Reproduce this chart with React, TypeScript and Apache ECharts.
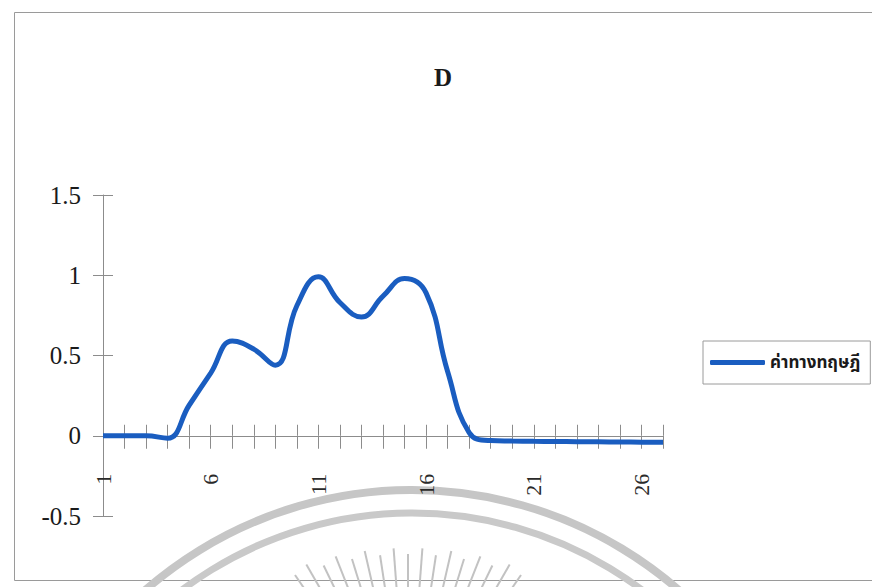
import React, { useEffect, useRef } from "react";
import * as echarts from "echarts";

// Point index along the horizontal axis
const categories = [
  "1", "2", "3", "4", "5", "6", "7", "8", "9", "10", "11", "12", "13", "14",
  "15", "16", "17", "18", "19", "20", "21", "22", "23", "24", "25", "26", "27",
];

// Theoretical values (ค่าทางทฤษฎี)
const theoryValues = [
  0, 0, 0, -0.015, 0.19, 0.39, 0.59, 0.54, 0.44, 0.81, 0.99, 0.83, 0.74, 0.87,
  0.98, 0.89, 0.4, 0.02, -0.03, -0.033, -0.035, -0.036, -0.037, -0.038, -0.039,
  -0.04, -0.041,
];

const seriesName = "ค่าทางทฤษฎี";
const chartTitle = "D";

const yMin = -0.5;
const yMax = 1.5;
const yStep = 0.5;

const SERIF = "'Liberation Serif', 'Times New Roman', serif";
const LINE_BLUE = "#1a5dc0";
const AXIS_GRAY = "#8c8c8c";

const GRID = { left: 103, right: 209, top: 195, bottom: 71 };
const PLOT_HEIGHT = 587 - GRID.top - GRID.bottom;
// distance from the bottom of the plot up to the value 0, where the category axis sits
const ZERO_OFFSET = ((0 - yMin) / (yMax - yMin)) * PLOT_HEIGHT;

// Faint seal stamped behind the chart: two arcs and a fan of rays
function sealGraphics() {
  const items: any[] = [
    {
      type: "arc",
      silent: true,
      z: -10,
      shape: { cx: 412, cy: 895, r: 405, startAngle: -2.6, endAngle: -0.55 },
      style: { stroke: "#c6c6c6", lineWidth: 8, fill: "none" },
    },
    {
      type: "arc",
      silent: true,
      z: -10,
      shape: { cx: 412, cy: 895, r: 382, startAngle: -2.6, endAngle: -0.55 },
      style: { stroke: "#c9c9c9", lineWidth: 7, fill: "none" },
    },
  ];
  const cx = 408;
  const cy = 740;
  for (let k = -8; k <= 8; k++) {
    const a = (k * 4.3 * Math.PI) / 180;
    const r1 = 186 + 14 * Math.pow(Math.abs(k) / 8, 2) + (k % 2 === 0 ? 0 : 6);
    const r2 = r1 - 80;
    items.push({
      type: "line",
      silent: true,
      z: -10,
      shape: {
        x1: cx + r1 * Math.sin(a),
        y1: cy - r1 * Math.cos(a),
        x2: cx + r2 * Math.sin(a),
        y2: cy - r2 * Math.cos(a),
      },
      style: { stroke: "#c2c2c2", lineWidth: 2 },
    });
  }
  return items;
}

export default function App() {
  const ref = useRef<HTMLDivElement>(null);

  useEffect(() => {
    if (!ref.current) return;
    const chart = echarts.init(ref.current, undefined, { renderer: "svg" });
    chart.setOption({
      animation: false,
      backgroundColor: "#ffffff",
      title: {
        text: chartTitle,
        left: 429,
        top: 60,
        textStyle: {
          fontFamily: SERIF,
          fontSize: 25,
          fontWeight: "bold",
          color: "#1a1a1a",
        },
      },
      legend: {
        data: [seriesName],
        left: 703,
        top: 341,
        padding: [13, 10, 13, 7],
        icon: "roundRect",
        itemWidth: 55,
        itemHeight: 5,
        borderColor: "#9a9a9a",
        borderWidth: 1,
        textStyle: {
          fontFamily: "'Noto Sans Thai', 'Loma', 'Garuda', 'Norasi', 'Noto Serif Thai', 'DejaVu Sans', sans-serif",
          fontSize: 17,
          fontWeight: "bold",
          color: "#1a1a1a",
        },
      },
      grid: { ...GRID, containLabel: false },
      xAxis: [
        {
          type: "category",
          data: categories,
          boundaryGap: false,
          position: "bottom",
          offset: -ZERO_OFFSET,
          axisLine: { onZero: false, lineStyle: { color: AXIS_GRAY, width: 1 } },
          axisTick: {
            show: true,
            interval: 0,
            length: 13,
            lineStyle: { color: AXIS_GRAY },
          },
          axisLabel: {
            interval: 4,
            rotate: 90,
            margin: 38,
            fontFamily: SERIF,
            fontSize: 22,
            color: "#2a2a2a",
          },
          splitLine: { show: false },
        },
        {
          type: "category",
          data: categories,
          boundaryGap: false,
          position: "bottom",
          offset: -ZERO_OFFSET,
          axisLine: { show: false, onZero: false },
          axisTick: {
            show: true,
            inside: true,
            interval: 0,
            length: 11,
            lineStyle: { color: AXIS_GRAY },
          },
          axisLabel: { show: false },
          splitLine: { show: false },
        },
      ],
      yAxis: [
        {
          type: "value",
          min: yMin,
          max: yMax,
          interval: yStep,
          axisLine: { show: true, onZero: false, lineStyle: { color: AXIS_GRAY, width: 1 } },
          axisTick: { show: true, length: 10, lineStyle: { color: AXIS_GRAY } },
          axisLabel: {
            margin: 22,
            fontFamily: SERIF,
            fontSize: 25,
            color: "#1a1a1a",
            formatter: (v: number) => String(v),
          },
          splitLine: { show: false },
        },
        {
          type: "value",
          min: yMin,
          max: yMax,
          interval: yStep,
          position: "left",
          axisLine: { show: false, onZero: false },
          axisTick: {
            show: true,
            inside: true,
            length: 10,
            lineStyle: { color: AXIS_GRAY },
          },
          axisLabel: { show: false },
          splitLine: { show: false },
        },
      ],
      series: [
        {
          name: seriesName,
          type: "line",
          data: theoryValues,
          smooth: 0.45,
          symbol: "none",
          color: LINE_BLUE,
          lineStyle: { color: LINE_BLUE, width: 5 },
          z: 5,
        },
      ],
      graphic: [
        {
          type: "rect",
          silent: true,
          z: -20,
          shape: { x: 14.5, y: 12.5, width: 900, height: 568 },
          style: { fill: "none", stroke: "#9a9a9a", lineWidth: 1 },
        },
        ...sealGraphics(),
      ],
    });
    return () => chart.dispose();
  }, []);

  return (
    <div
      ref={ref}
      style={{ position: "fixed", left: 0, top: 0, width: 872, height: 587 }}
    />
  );
}
